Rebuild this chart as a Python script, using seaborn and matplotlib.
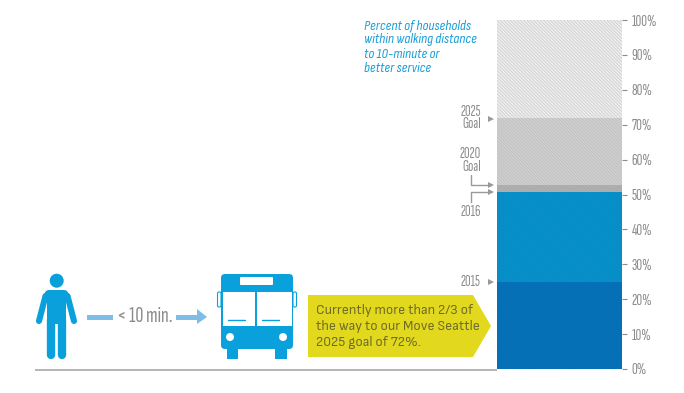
import matplotlib
matplotlib.use("Agg")
import matplotlib.pyplot as plt
from matplotlib.patches import Polygon, Circle, FancyBboxPatch, Rectangle
import seaborn as sns

levels = [100, 72, 52.7, 50.8, 25]
level_names = ["Ceiling", "2025 Goal", "2020 Goal", "2016", "2015"]
fills = ["#efefef", "#cfcfcf", "#b2b2b2", "#0a93cc", "#0473ba"]
hatches = ["#cdcdcd", "#c0c0c0", "#a6a6a6", "#0387c0", "#066bb0"]
ticks = [0, 10, 20, 30, 40, 50, 60, 70, 80, 90, 100]
tick_labels = [f"{t}%" for t in ticks]

W, H = 684, 393
NARROW = ["Sofia Sans Extra Condensed", "Liberation Sans", "DejaVu Sans"]
SEMI = ["Sofia Sans Condensed", "Roboto", "DejaVu Sans"]
BODY = ["Sofia Sans Semi Condensed", "Roboto", "DejaVu Sans"]
GREY = "#8c8c8c"
BLUE = "#0aa0dc"
LIGHT = "#7dbde8"

sns.set_theme(style="white")
plt.rcParams["font.family"] = NARROW
plt.rcParams["hatch.linewidth"] = 0.6

fig = plt.figure(figsize=(W / 100, H / 100), dpi=100, facecolor="white")
ax = fig.add_axes([497 / W, 1 - 369 / H, 125 / W, 349 / H])
for name, v, f, h in zip(level_names, levels, fills, hatches):
    sns.barplot(x=["Households"], y=[v], ax=ax, width=1, color=f, saturation=1,
                edgecolor=h, hatch="\\" * 10, linewidth=0, zorder=2)
ax.set_xlim(-0.5, 0.5)
ax.set_ylim(0, 100)
ax.set_xlabel("")
ax.set_ylabel("")
ax.set_xticks([])
ax.yaxis.tick_right()
ax.set_yticks(ticks)
ax.set_yticklabels(tick_labels, fontsize=11.5, color=GREY)
ax.tick_params(axis="y", length=3.6, width=0.8, color=GREY, pad=3.5, right=True, left=False)
for s in ax.spines.values():
    s.set_visible(False)

ov = fig.add_axes([0, 0, 1, 1], zorder=5)
ov.set_xlim(0, W)
ov.set_ylim(H, 0)
ov.axis("off")
ov.patch.set_alpha(0)

# baseline
ov.plot([35, 497], [369.5, 369.5], color="#a0a0a0", lw=1.1, solid_capstyle="butt")

# person
ov.add_patch(Circle((56.7, 280.7), 7, color=BLUE, lw=0))
ov.add_patch(FancyBboxPatch((44.5, 290), 24, 12, boxstyle="round,pad=0,rounding_size=5", color=BLUE, lw=0))
ov.add_patch(Rectangle((47, 294), 19, 30, color=BLUE, lw=0))
ov.plot([45.5, 39], [296, 321], color=BLUE, lw=4.4, solid_capstyle="round")
ov.plot([67.5, 74], [296, 321], color=BLUE, lw=4.4, solid_capstyle="round")
ov.plot([51, 51], [320, 355], color=BLUE, lw=6, solid_capstyle="round")
ov.plot([61.5, 61.5], [320, 355], color=BLUE, lw=6, solid_capstyle="round")

# arrow row
ov.add_patch(Rectangle((87, 314.5), 26, 5, color=LIGHT, lw=0))
ov.add_patch(Rectangle((176, 314.5), 22, 5, color=LIGHT, lw=0))
ov.add_patch(Polygon([(197, 309), (207, 317), (197, 324)], closed=True, color=LIGHT, lw=0))
ov.text(144.5, 316.5, "< 10 min.", fontsize=16, color=GREY, ha="center", va="center")

# bus
ov.add_patch(FancyBboxPatch((221, 274), 72, 75, boxstyle="round,pad=0,rounding_size=4", color=BLUE, lw=0))
ov.add_patch(Rectangle((227, 345), 11, 14, color=BLUE, lw=0))
ov.add_patch(Rectangle((275, 345), 12, 14, color=BLUE, lw=0))
ov.add_patch(Rectangle((222.5, 292), 32.5, 34, color="white", lw=0))
ov.add_patch(Rectangle((257, 292), 34.5, 34, color="white", lw=0))
ov.add_patch(FancyBboxPatch((240, 277), 33, 8, boxstyle="round,pad=0,rounding_size=1", color="white", lw=0))
ov.add_patch(Circle((230, 337), 4, color="white", lw=0))
ov.add_patch(Circle((283, 337), 4, color="white", lw=0))
ov.plot([228, 245], [319.5, 319.5], color=BLUE, lw=1)
ov.plot([262, 279], [319.5, 319.5], color=BLUE, lw=1)
ov.add_patch(FancyBboxPatch((217.5, 292), 3.5, 15, boxstyle="round,pad=0,rounding_size=1.5", fc="none", ec=BLUE, lw=0.8))
ov.add_patch(FancyBboxPatch((293, 292), 3.5, 15, boxstyle="round,pad=0,rounding_size=1.5", fc="none", ec=BLUE, lw=0.8))

# callout
ov.add_patch(Polygon([(308, 295), (473, 295), (491, 326), (473, 357), (308, 357)], closed=True, color="#e2d91f", lw=0))
for y, line in zip([310.5, 326.5, 342.5], ["Currently more than 2/3 of", "the way to our Move Seattle", "2025 goal of 72%."]):
    ov.text(316, y, line, fontsize=10.3, family=BODY, color="#6e6c26", ha="left", va="center")

# note
for y, line in zip([26, 40, 55, 69], ["Percent of households", "within walking distance", "to 10-minute or", "better service"]):
    ov.text(364, y, line, fontsize=10.5, family=SEMI, style="italic", color="#1a9fd8", ha="left", va="center")

# labels on the left of the bar
for y, s in [(112, "2025"), (124.5, "Goal"), (154, "2020"), (167, "Goal"), (212.5, "2016")]:
    ov.text(481, y, s, fontsize=11, color=GREY, ha="right", va="center")
ov.text(480, 282.5, "2015", fontsize=11, color=GREY, ha="right", va="center")

def tri(x, y):
    ov.add_patch(Polygon([(x, y - 3), (x + 6, y), (x, y + 3)], closed=True, color="#999999", lw=0))

tri(488, 119)
tri(488, 282)
tri(488, 185)
tri(488, 192)
ov.plot([471, 471, 489], [175, 185, 185], color="#999999", lw=1)
ov.plot([471, 471, 489], [202, 192, 192], color="#999999", lw=1)

fig.savefig("out.png", dpi=100, facecolor="white")
